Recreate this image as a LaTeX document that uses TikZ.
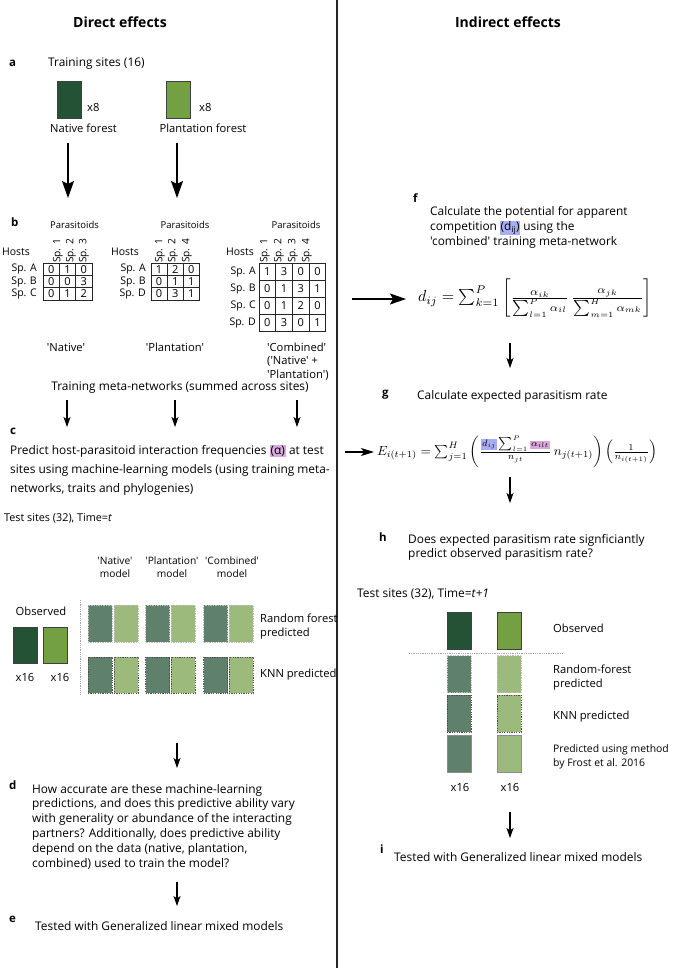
\documentclass[tikz,border=0pt]{standalone}
\usepackage{fontspec}
\setmainfont{Open Sans}[Ligatures=TeXOff]
\usepackage{graphicx}
\usetikzlibrary{arrows.meta}
\definecolor{forestD}{HTML}{245234}
\definecolor{forestL}{HTML}{72A042}
\definecolor{predD}{HTML}{5F806B}
\definecolor{predL}{HTML}{9CBA7B}
\definecolor{hlpink}{HTML}{D9A8DC}
\definecolor{hlblue}{HTML}{A9AEF2}
\tikzset{
  tx/.style={inner sep=0pt, font=\fontsize{11.9}{15}\selectfont, align=left},
  tl/.style={inner sep=0pt, font=\fontsize{11.2}{14}\selectfont, align=left},
  txc/.style={inner sep=0pt, font=\fontsize{10.2}{12.5}\selectfont, align=center},
  sm/.style={inner sep=0pt, font=\fontsize{9.5}{11}\selectfont},
  rowl/.style={inner sep=0pt, font=\fontsize{10.5}{12}\selectfont},
  coll/.style={inner sep=0pt, font=\fontsize{10.2}{12}\selectfont, rotate=90},
  cell/.style={inner sep=0pt, font=\fontsize{11}{12}\selectfont},
  hdr/.style={inner sep=0pt, font=\bfseries\fontsize{14}{16}\selectfont},
  lbl/.style={inner sep=0pt, font=\bfseries\fontsize{11.5}{13}\selectfont},
  gridln/.style={line width=0.8pt, black!85},
  siteD/.style={draw=black!75, line width=0.8pt, fill=forestD, minimum width=24pt, minimum height=37pt, inner sep=0pt},
  siteL/.style={draw=black!75, line width=0.8pt, fill=forestL, minimum width=24pt, minimum height=37pt, inner sep=0pt},
  rfD/.style={draw=black!25, densely dotted, line width=0.7pt, fill=predD, minimum width=24pt, minimum height=37pt, inner sep=0pt},
  rfL/.style={draw=black!25, densely dotted, line width=0.7pt, fill=predL, minimum width=24pt, minimum height=37pt, inner sep=0pt},
  knD/.style={draw=black!70, dash pattern=on 1.2pt off 1.2pt, line width=0.8pt, fill=predD, minimum width=24pt, minimum height=37pt, inner sep=0pt},
  knL/.style={draw=black!70, dash pattern=on 1.2pt off 1.2pt, line width=0.8pt, fill=predL, minimum width=24pt, minimum height=37pt, inner sep=0pt},
  frD/.style={draw=black!45, line width=0.6pt, fill=predD, minimum width=24pt, minimum height=37pt, inner sep=0pt},
  frL/.style={draw=black!45, line width=0.6pt, fill=predL, minimum width=24pt, minimum height=37pt, inner sep=0pt},
  thinarrow/.style={line width=1.1pt, -{Stealth[length=10pt,width=7pt,inset=2.5pt]}},
  bigarrow/.style={line width=1.8pt, -{Stealth[length=17pt,width=12pt,inset=3pt]}},
  midarrow/.style={line width=1.5pt, -{Stealth[length=16pt,width=11pt,inset=3pt]}},
  guide/.style={black!35, line width=0.8pt, densely dotted},
}
\begin{document}
\begin{tikzpicture}[x=1pt,y=-1pt]
\useasboundingbox (0,0) rectangle (675,968);
% divider
\draw[line width=1.5pt, black!85] (337,0) -- (337,968);
% headers
\node[hdr] (hdrL) at (120,22) {Direct effects};
\node[hdr] (hdrR) at (508,22) {Indirect effects};

% ---------- a ----------
\node[lbl, anchor=base west] (la) at (9,67) {a};
\node[tx, anchor=base west] (trs) at (48,67) {Training sites (16)};
\node[siteD] (natR) at (69,99.5) {};
\node[siteL] (plaR) at (178,99.5) {};
\node[tl, anchor=base west] (x8a) at (87,112) {x8};
\node[tl, anchor=base west] (x8b) at (199,112) {x8};
\node[tl] (natL) at (83.5,128) {Native forest};
\node[tl] (plaL) at (203,128) {Plantation forest};
\coordinate (a1s) at (68,143); \coordinate (a1e) at (68,198);
\coordinate (a2s) at (177,143); \coordinate (a2e) at (177,198);
\draw[bigarrow] (a1s) -- (a1e);
\draw[bigarrow] (a2s) -- (a2e);

% ---------- b ----------
\node[lbl, anchor=base west] (lb) at (11,226) {b};
\node[sm] (parN) at (74.5,225) {Parasitoids};
\node[sm] (parP) at (185,225) {Parasitoids};
\node[sm] (parC) at (296,225) {Parasitoids};
\node[coll] (cN1) at (58,251) {Sp. 1};
\node[coll] (cN2) at (71,251) {Sp. 2};
\node[coll] (cN3) at (84,251) {Sp. 3};
\node[coll] (cP1) at (160,251) {Sp. 1};
\node[coll] (cP2) at (173,251) {Sp. 2};
\node[coll] (cP4) at (187,251) {Sp. 4};
\node[coll] (cC1) at (265,251) {Sp. 1};
\node[coll] (cC2) at (279,251) {Sp. 2};
\node[coll] (cC3) at (293,251) {Sp. 3};
\node[coll] (cC4) at (307,251) {Sp. 4};
\node[rowl] (hN) at (16,252) {Hosts};
\node[rowl] (hP) at (125,252) {Hosts};
\node[rowl] (hC) at (240,252) {Hosts};
% native grid
\draw[gridln] (43,263) rectangle (92,300.2);
\foreach \xx in {59.3,75.6} \draw[gridln] (\xx,263) -- (\xx,300.2);
\foreach \yy in {275.4,287.8} \draw[gridln] (43,\yy) -- (92,\yy);
\foreach \row [count=\r] in {{0,1,0},{0,0,3},{0,1,2}} {
  \foreach \v [count=\c] in \row {
    \node[cell] (nat-\r-\c) at ({43+(\c-0.5)*16.33},{263+(\r-0.5)*12.4}) {\v};
  }
}
\foreach \t [count=\r] in {A,B,C}
  \node[rowl, anchor=east] (rN\r) at (37,{263+(\r-0.5)*12.4}) {Sp. \t};
% plantation grid
\draw[gridln] (151,263) rectangle (199.3,300.2);
\foreach \xx in {167.1,183.2} \draw[gridln] (\xx,263) -- (\xx,300.2);
\foreach \yy in {275.4,287.8} \draw[gridln] (151,\yy) -- (199.3,\yy);
\foreach \row [count=\r] in {{1,2,0},{0,1,1},{0,3,1}} {
  \foreach \v [count=\c] in \row {
    \node[cell] (pla-\r-\c) at ({151+(\c-0.5)*16.1},{263+(\r-0.5)*12.4}) {\v};
  }
}
\foreach \t [count=\r] in {A,B,D}
  \node[rowl, anchor=east] (rP\r) at (146,{263+(\r-0.5)*12.4}) {Sp. \t};
% combined grid
\draw[gridln] (259,263) rectangle (325.8,331);
\foreach \xx in {275.7,292.4,309.1} \draw[gridln] (\xx,263) -- (\xx,331);
\foreach \yy in {280,297,314} \draw[gridln] (259,\yy) -- (325.8,\yy);
\foreach \row [count=\r] in {{1,3,0,0},{0,1,3,1},{0,1,2,0},{0,3,0,1}} {
  \foreach \v [count=\c] in \row {
    \node[cell] (com-\r-\c) at ({259+(\c-0.5)*16.7},{263+(\r-0.5)*17}) {\v};
  }
}
\foreach \t [count=\r] in {A,B,C,D}
  \node[rowl, anchor=east] (rC\r) at (256,{263+(\r-0.5)*17}) {Sp. \t};
\node[tl] (nNat) at (66,347) {'Native'};
\node[tl] (nPla) at (175,347) {'Plantation'};
\node[tl, anchor=base west, font=\fontsize{11.2}{13.5}\selectfont] (nCom) at (267,378) {'Combined'\\('Native' +\\'Plantation')};
\node[tx] (tmn) at (180,387) {Training meta-networks (summed across sites)};
\coordinate (b1s) at (67,400); \coordinate (b1e) at (67,427);
\coordinate (b2s) at (175,400); \coordinate (b2e) at (175,427);
\coordinate (b3s) at (297,400); \coordinate (b3e) at (297,427);
\draw[thinarrow] (b1s) -- (b1e);
\draw[thinarrow] (b2s) -- (b2e);
\draw[thinarrow] (b3s) -- (b3e);

% ---------- c ----------
\node[lbl, anchor=base west] (lc) at (10,434) {c};
{\setlength{\fboxsep}{1pt}
\node[tx, anchor=base west, font=\fontsize{11.9}{19}\selectfont] (pc) at (10,492)
  {Predict host-parasitoid interaction frequencies \colorbox{hlpink}{(α)} at test\\
   sites using machine-learning models (using training meta-\\
   networks, traits and phylogenies)};
}
\node[tx, anchor=base west, font=\fontsize{10.8}{13}\selectfont] (ts1) at (4,521) {Test sites (32), Time=\textit{t}};
\node[txc, anchor=base] (mN) at (115,577) {'Native'\\model};
\node[txc, anchor=base] (mP) at (172,577) {'Plantation'\\model};
\node[txc, anchor=base] (mC) at (232,577) {'Combined'\\model};
\node[tl] (obs1) at (41,611) {Observed};
\node[siteD, minimum height=36pt] (o1D) at (25,645) {};
\node[siteL, minimum height=36pt] (o1L) at (55,645) {};
\node[tl] (x16a) at (25,677) {x16};
\node[tl] (x16b) at (60,677) {x16};
\draw[guide] (80,600) -- (80,695);
\node[rfD] (rf1D) at (100,623.5) {};
\node[rfL] (rf1L) at (126,623.5) {};
\node[rfD] (rf2D) at (157.5,623.5) {};
\node[rfL] (rf2L) at (183,623.5) {};
\node[rfD] (rf3D) at (215.5,623.5) {};
\node[rfL] (rf3L) at (241,623.5) {};
\node[knD, minimum height=36pt] (kn1D) at (100,675) {};
\node[knL, minimum height=36pt] (kn1L) at (126,675) {};
\node[knD, minimum height=36pt] (kn2D) at (157.5,675) {};
\node[knL, minimum height=36pt] (kn2L) at (183,675) {};
\node[knD, minimum height=36pt] (kn3D) at (215.5,675) {};
\node[knL, minimum height=36pt] (kn3L) at (241,675) {};
\node[tl, anchor=base west] (rfT) at (260,636) {Random forest\\predicted};
\node[tl, anchor=base west] (knT) at (260,677) {KNN predicted};

% ---------- d / e ----------
\coordinate (d1s) at (177,743); \coordinate (d1e) at (177,768);
\draw[thinarrow] (d1s) -- (d1e);
\node[lbl, anchor=base west] (ld) at (9,789) {d};
\node[tx, anchor=base west, font=\fontsize{11.9}{14.8}\selectfont] (pd) at (32,867)
  {How accurate are these machine-learning\\
   predictions, and does this predictive ability vary\\
   with generality or abundance of the interacting\\
   partners? Additionally, does predictive ability\\
   depend on the data (native, plantation,\\
   combined) used to train the model?};
\coordinate (e1s) at (177,882); \coordinate (e1e) at (177,906);
\draw[thinarrow] (e1s) -- (e1e);
\node[lbl, anchor=base west] (le) at (9,922) {e};
\node[tx, anchor=base west] (te) at (35,930) {Tested with Generalized linear mixed models};

% ---------- f ----------
\node[lbl, anchor=base west] (lf) at (413,203) {f};
{\setlength{\fboxsep}{0.6pt}
\node[tx, anchor=base west, font=\fontsize{11.9}{15.5}\selectfont] (pf) at (430,246)
  {Calculate the potential for apparent\\
   competition \colorbox{hlblue}{(d\textsubscript{ij})} using the\\
   'combined' training meta-network};
}
\coordinate (f1s) at (352,299); \coordinate (f1e) at (406,299);
\draw[midarrow] (f1s) -- (f1e);
\node[inner sep=0pt] (eqd) at (535,298)
  {\resizebox{234pt}{!}{$d_{ij} = \sum_{k=1}^{P} \left[ \frac{\alpha_{ik}}{\sum_{l=1}^{P}\alpha_{il}}\,\frac{\alpha_{jk}}{\sum_{m=1}^{H}\alpha_{mk}} \right]$}};
\coordinate (g0s) at (510,343); \coordinate (g0e) at (510,368);
\draw[thinarrow] (g0s) -- (g0e);

% ---------- g ----------
\node[lbl, anchor=base west] (lg) at (382,396) {g};
\node[tx, anchor=base west] (tg) at (417,399) {Calculate expected parasitism rate};
\coordinate (g1s) at (345,452); \coordinate (g1e) at (374,452);
\draw[thinarrow, line width=1.2pt, -{Stealth[length=13pt,width=8pt,inset=3pt]}] (g1s) -- (g1e);
{\setlength{\fboxsep}{0.8pt}
\node[inner sep=0pt] (eqE) at (517,452)
  {\resizebox{280pt}{!}{$E_{i(t+1)} = \sum_{j=1}^{H} \left( \frac{\colorbox{hlblue}{$\scriptstyle d_{ij}$}\sum_{l=1}^{P}\colorbox{hlpink}{$\scriptstyle \alpha_{ilt}$}}{n_{jt}}\, n_{j(t+1)} \right) \left( \frac{1}{n_{i(t+1)}} \right)$}};
}
\coordinate (h0s) at (510,477); \coordinate (h0e) at (510,503);
\draw[thinarrow] (h0s) -- (h0e);

% ---------- h ----------
\node[lbl, anchor=base west] (lh) at (379,541) {h};
\node[tx, anchor=base west, font=\fontsize{11.9}{14}\selectfont] (ph) at (408,557)
  {Does expected parasitism rate signficiantly\\
   predict observed parasitism rate?};
\node[tx, anchor=base west, font=\fontsize{11.9}{13}\selectfont] (ts2) at (357,597) {Test sites (32), Time=\textit{t+1}};
\node[siteD] (o2D) at (459,630.5) {};
\node[siteL] (o2L) at (509,630.5) {};
\node[tl, anchor=base west] (obs2) at (553,632) {Observed};
\draw[guide] (409,653) -- (563,653);
\node[rfD] (rf4D) at (459,674) {};
\node[rfL] (rf4L) at (509,674) {};
\node[tl, anchor=base west] (rfT2) at (553,687) {Random-forest\\predicted};
\node[knD] (kn4D) at (459,713.5) {};
\node[knL] (kn4L) at (509,713.5) {};
\node[tl, anchor=base west] (knT2) at (553,719) {KNN predicted};
\node[frD] (fr4D) at (459,753.5) {};
\node[frL] (fr4L) at (509,753.5) {};
\node[tl, anchor=base west, font=\fontsize{10.4}{14}\selectfont] (frT) at (553,766) {Predicted using method\\by Frost et al. 2016};
\node[tl] (x16c) at (460,787) {x16};
\node[tl] (x16d) at (510,787) {x16};
\coordinate (i0s) at (510,812); \coordinate (i0e) at (510,838);
\draw[thinarrow] (i0s) -- (i0e);

% ---------- i ----------
\node[lbl, anchor=base west] (li) at (380,853) {i};
\node[tx, anchor=base west] (ti) at (394,861) {Tested with Generalized linear mixed models};
\end{tikzpicture}
\end{document}
